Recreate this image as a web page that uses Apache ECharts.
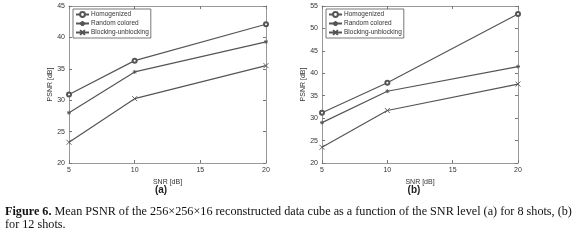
<!DOCTYPE html>
<html>
<head>
<meta charset="utf-8">
<script src="https://cdn.jsdelivr.net/npm/echarts@6/dist/echarts.min.js"></script>
<style>
  html, body { margin: 0; padding: 0; background: #fff; }
  #main { width: 580px; height: 241px; }
</style>
</head>
<body>
<div id="main"></div>
<script>
let snr = [5, 10, 20]
let seriesNames = ['Homogenized', 'Random colored', 'Blocking-unblocking']

// (a) 8 shots
let homogA = [30.9, 36.3, 42.1]
let randomA = [28.0, 34.5, 39.3]
let blockA = [23.3, 30.25, 35.5]

// (b) 12 shots
let homogB = [31.2, 37.9, 53.2]
let randomB = [29.0, 36.0, 41.5]
let blockB = [23.5, 31.7, 37.6]

const lineColor = '#555'
const symbols = [
    'emptyCircle',
    'path://M0,-5L0,5M-5,0L5,0M-3.5,-3.5L3.5,3.5M-3.5,3.5L3.5,-3.5',
    'path://M-5,-5L5,5M-5,5L5,-5'
]
const sizes = [4, 4, 5]

function pair(xs, ys) {
    return xs.map((x, i) => [x, ys[i]])
}

function makeSeries(idx, values) {
    return values.map((v, k) => ({
        name: seriesNames[k],
        type: 'line',
        xAxisIndex: idx * 2,
        yAxisIndex: idx * 2,
        data: pair(snr, v),
        symbol: symbols[k],
        symbolSize: sizes[k],
        showAllSymbol: true,
        lineStyle: { color: lineColor, width: 1.2 },
        itemStyle: { color: lineColor, borderColor: lineColor, borderWidth: 0.9 },
        animation: false
    }))
}

function axesFor(idx, ymax) {
    let lbl = { fontSize: 7, color: '#333', fontFamily: 'Liberation Sans' }
    let tick = { inside: true, length: 3, lineStyle: { color: '#777' } }
    let line = { lineStyle: { color: '#999' } }
    return {
        x: [
            { type: 'value', gridIndex: idx, min: 5, max: 20, interval: 5, axisLine: line, axisTick: tick,
              splitLine: { show: false }, axisLabel: Object.assign({ margin: 4 }, lbl),
              name: 'SNR [dB]', nameLocation: 'middle', nameGap: 12, nameTextStyle: lbl },
            { type: 'value', gridIndex: idx, position: 'top', min: 5, max: 20, interval: 5, axisLine: line,
              axisTick: tick, splitLine: { show: false }, axisLabel: { show: false } }
        ],
        y: [
            { type: 'value', gridIndex: idx, min: 20, max: ymax, interval: 5, axisLine: line, axisTick: tick,
              splitLine: { show: false }, axisLabel: Object.assign({ margin: 4 }, lbl),
              name: 'PSNR [dB]', nameLocation: 'middle', nameGap: 14, nameTextStyle: lbl },
            { type: 'value', gridIndex: idx, position: 'right', min: 20, max: ymax, interval: 5, axisLine: line,
              axisTick: tick, splitLine: { show: false }, axisLabel: { show: false } }
        ]
    }
}

let axA = axesFor(0, 45)
let axB = axesFor(1, 55)

function legendAt(left) {
    return {
        orient: 'vertical', left: left, top: 9,
        data: seriesNames,
        itemWidth: 13, itemHeight: 6, itemGap: 2,
        padding: [2, 2, 2, 2],
        borderColor: '#555', borderWidth: 0.8, backgroundColor: '#fff',
        textStyle: { fontSize: 6.5, color: '#333', fontFamily: 'Liberation Sans', padding: [0, 0, 0, -3] },
        selectedMode: false
    }
}

var myChart = echarts.init(document.getElementById('main'))

let option = {
    backgroundColor: '#fff',
    animation: false,
    grid: [
        { left: 69, top: 6, width: 197, height: 157 },
        { left: 322, top: 6, width: 196, height: 157 }
    ],
    xAxis: axA.x.concat(axB.x),
    yAxis: axA.y.concat(axB.y),
    legend: [legendAt(73), legendAt(326)],
    series: makeSeries(0, [homogA, randomA, blockA]).concat(makeSeries(1, [homogB, randomB, blockB])),
    graphic: [
        { type: 'text', x: 161, y: 185, style: { text: '(a)', align: 'center', fontSize: 10, fontWeight: 'bold', fill: '#222', fontFamily: 'Liberation Sans' } },
        { type: 'text', x: 414, y: 185, style: { text: '(b)', align: 'center', fontSize: 10, fontWeight: 'bold', fill: '#222', fontFamily: 'Liberation Sans' } },
        { type: 'text', left: 5, top: 206, style: {
            rich: { b: { fontWeight: 'bold', fontSize: 12.2, fontFamily: 'Liberation Serif', fill: '#111' } },
            text: '{b|Figure 6.} Mean PSNR of the 256×256×16 reconstructed data cube as a function of the SNR level (a) for 8 shots, (b)',
            fontSize: 12.2, fontFamily: 'Liberation Serif', fill: '#111' } },
        { type: 'text', left: 5, top: 219, style: { text: 'for 12 shots.', fontSize: 12.2, fontFamily: 'Liberation Serif', fill: '#111' } }
    ]
}

myChart.setOption(option)
</script>
</body>
</html>
